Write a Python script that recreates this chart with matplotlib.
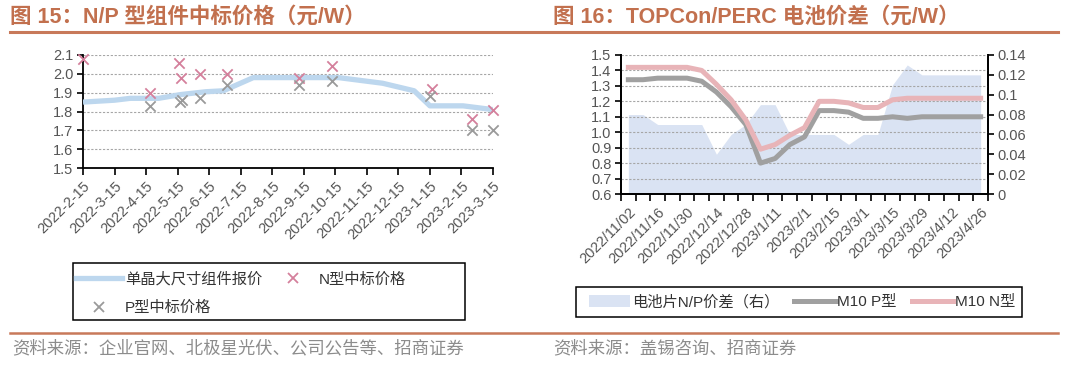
import matplotlib
matplotlib.use("Agg")
import matplotlib.pyplot as plt
import numpy as np
from matplotlib.lines import Line2D
from matplotlib.patches import Patch, Rectangle

plt.rcParams['font.family'] = ['Liberation Sans', 'Noto Sans CJK SC']
plt.rcParams['axes.unicode_minus'] = False

# ---------------- data: left chart ----------------
month_labels = ['2022-2-15', '2022-3-15', '2022-4-15', '2022-5-15', '2022-6-15',
                '2022-7-15', '2022-8-15', '2022-9-15', '2022-10-15', '2022-11-15',
                '2022-12-15', '2023-1-15', '2023-2-15', '2023-3-15']
module_x = [0, 1.0, 1.5, 2.4, 3.1, 3.9, 4.45, 5.4, 8.1, 9.5, 10.5, 11.0, 12.05, 13]
module_y = [1.85, 1.86, 1.87, 1.87, 1.89, 1.905, 1.91, 1.98, 1.98, 1.95, 1.91, 1.83, 1.83, 1.81]
n_bid_x = [0, 2.14, 3.04, 3.12, 3.70, 4.55, 6.84, 7.88, 11.05, 12.32, 13]
n_bid_y = [2.08, 1.90, 2.06, 1.98, 2.00, 2.00, 1.98, 2.04, 1.92, 1.76, 1.81]
p_bid_x = [2.14, 3.07, 3.15, 3.70, 4.55, 6.84, 7.88, 11.0, 12.32, 13]
p_bid_y = [1.83, 1.85, 1.86, 1.87, 1.94, 1.94, 1.96, 1.88, 1.70, 1.70]

# ---------------- data: right chart ----------------
week_labels = ['2022/11/02', '2022/11/09', '2022/11/16', '2022/11/23', '2022/11/30',
               '2022/12/07', '2022/12/14', '2022/12/21', '2022/12/28', '2023/1/4',
               '2023/1/11', '2023/1/18', '2023/2/1', '2023/2/8', '2023/2/15',
               '2023/2/22', '2023/3/1', '2023/3/8', '2023/3/15', '2023/3/22',
               '2023/3/29', '2023/4/5', '2023/4/12', '2023/4/19', '2023/4/26']
m10_p = [1.34, 1.34, 1.35, 1.35, 1.35, 1.33, 1.26, 1.165, 1.05, 0.80, 0.83, 0.92, 0.97,
         1.14, 1.14, 1.13, 1.09, 1.09, 1.10, 1.09, 1.10, 1.10, 1.10, 1.10, 1.10]
m10_n = [1.42, 1.42, 1.42, 1.42, 1.42, 1.40, 1.31, 1.21, 1.08, 0.89, 0.92, 0.98, 1.03,
         1.20, 1.20, 1.19, 1.16, 1.16, 1.21, 1.22, 1.22, 1.22, 1.22, 1.22, 1.22]
np_spread = [0.08, 0.08, 0.07, 0.07, 0.07, 0.07, 0.04, 0.06, 0.07, 0.09, 0.09, 0.06, 0.06,
             0.06, 0.06, 0.05, 0.06, 0.06, 0.11, 0.13, 0.12, 0.12, 0.12, 0.12, 0.12]

# ---------------- styles ----------------
W, H = 1080, 370
title_color = '#C2704E'
rule_color = '#C8795A'
tick_color = '#555555'
grid_kw = dict(color='#A6A6A6', linestyle=(0, (2, 1.5)), linewidth=0.8)
blue_line = '#BDD7EE'
pink_x = '#D4809C'
gray_x = '#9A9A9A'
gray_line = '#A0A0A0'
pink_line = '#E8B4B8'
area_color = '#DAE3F3'
fs_tick = 10.5
fs_leg = 11


def fx(px):
    return px / W


def fy(py):
    return 1 - py / H


fig = plt.figure(figsize=(10.8, 3.7), dpi=100)

# titles and rules
fig.text(fx(10), fy(17), '图 15：N/P 型组件中标价格（元/W）', fontsize=15.5, weight='bold',
         color=title_color, va='center', ha='left')
fig.text(fx(553), fy(17), '图 16：TOPCon/PERC 电池价差（元/W）', fontsize=15.5, weight='bold',
         color=title_color, va='center', ha='left')
fig.add_artist(Line2D([fx(10), fx(1058)], [fy(32), fy(32)], color=rule_color, lw=2.2,
                      transform=fig.transFigure))
fig.add_artist(Line2D([fx(10), fx(1058)], [fy(333), fy(333)], color=rule_color, lw=1.8,
                      transform=fig.transFigure))
fig.text(fx(12), fy(348), '资料来源：企业官网、北极星光伏、公司公告等、招商证券', fontsize=12.5,
         color='#8C8C8C', va='center', ha='left')
fig.text(fx(553), fy(348), '资料来源：盖锡咨询、招商证券', fontsize=12.5,
         color='#8C8C8C', va='center', ha='left')

# ---------------- left chart ----------------
ax1 = fig.add_axes([fx(83), fy(168), fx(493 - 83), (168 - 55) / H])
ax1.plot(module_x, module_y, color=blue_line, lw=3.8, solid_capstyle='butt', zorder=3,
         label='单晶大尺寸组件报价')
ax1.scatter(n_bid_x, n_bid_y, marker='x', s=55, color=pink_x, linewidths=1.3, zorder=4,
            clip_on=False, label='N型中标价格')
ax1.scatter(p_bid_x, p_bid_y, marker='x', s=55, color=gray_x, linewidths=1.3, zorder=4,
            clip_on=False, label='P型中标价格')
ax1.set_xlim(0, len(month_labels) - 1)
ax1.set_ylim(1.5, 2.1)
ax1.set_yticks(np.arange(1.5, 2.11, 0.1))
ax1.set_yticklabels([f'{v:.1f}' for v in np.arange(1.5, 2.11, 0.1)])
ax1.set_xticks(range(len(month_labels)))
ax1.set_xticklabels(month_labels, rotation=45, ha='right', rotation_mode='anchor')
ax1.grid(axis='y', **grid_kw)
ax1.set_axisbelow(True)
for s in ['top', 'right']:
    ax1.spines[s].set_visible(False)
for s in ['left', 'bottom']:
    ax1.spines[s].set_color('black')
    ax1.spines[s].set_linewidth(1.3)
ax1.tick_params(axis='x', direction='out', length=5, width=1.2, labelsize=fs_tick,
                labelcolor=tick_color, pad=3)
ax1.tick_params(axis='y', direction='out', length=4, width=1.2, labelsize=fs_tick,
                labelcolor=tick_color, pad=3)

# left legend
h_line = Line2D([], [], color=blue_line, lw=3.8)
h_n = Line2D([], [], color=pink_x, marker='x', ls='none', markersize=7, mew=1.3)
h_p = Line2D([], [], color=gray_x, marker='x', ls='none', markersize=7, mew=1.3)
fig.add_artist(Rectangle((fx(73), fy(320)), fx(392), 57 / H, transform=fig.transFigure,
                         fill=False, ec='black', lw=1.1))
fig.legend([h_line, h_p, h_n], ['单晶大尺寸组件报价', 'P型中标价格', 'N型中标价格'],
           ncol=2, loc='upper left', bbox_to_anchor=(fx(76), fy(272)), frameon=False,
           handlelength=3.0, handletextpad=0.2, columnspacing=0.5, labelspacing=0.95,
           borderpad=0, borderaxespad=0, fontsize=fs_leg, labelcolor='#333333')

# ---------------- right chart ----------------
ax2 = fig.add_axes([fx(621), fy(194), fx(988 - 621), (194 - 55) / H])
ax3 = ax2.twinx()
xs = np.arange(len(week_labels))
ax3.fill_between(xs, 0, np_spread, color=area_color, lw=0, zorder=1)
ax3.set_ylim(0, 0.14)
ax3.set_yticks(np.arange(0, 0.141, 0.02))
ax3.set_yticklabels(['0', '0.02', '0.04', '0.06', '0.08', '0.1', '0.12', '0.14'])

ax2.set_zorder(ax3.get_zorder() + 1)
ax2.patch.set_visible(False)
ax2.plot(xs, m10_p, color=gray_line, lw=3.6, zorder=3)
ax2.plot(xs, m10_n, color=pink_line, lw=3.6, zorder=4)
ax2.set_ylim(0.6, 1.5)
ax2.set_yticks(np.arange(0.6, 1.51, 0.1))
ax2.set_yticklabels([f'{v:.1f}' for v in np.arange(0.6, 1.51, 0.1)])
ax2.set_xlim(-0.5, len(week_labels) - 0.5)
ax2.set_xticks(np.arange(-0.5, len(week_labels), 1))
ax2.set_xticklabels([])
ax2.set_xticks(xs[::2], minor=True)
ax2.set_xticklabels(week_labels[::2], minor=True, rotation=45, ha='right',
                    rotation_mode='anchor')
ax2.grid(axis='y', **grid_kw)
ax2.tick_params(axis='x', which='major', direction='out', length=5, width=1.2)
ax2.tick_params(axis='x', which='minor', length=0, labelsize=fs_tick,
                labelcolor=tick_color, pad=8)
ax2.tick_params(axis='y', direction='out', length=4, width=1.2, labelsize=fs_tick,
                labelcolor=tick_color, pad=3)
ax3.tick_params(axis='y', direction='out', length=4, width=1.2, labelsize=fs_tick,
                labelcolor=tick_color, pad=3)
for a in (ax2, ax3):
    a.spines['top'].set_visible(False)
    for s in ['left', 'bottom', 'right']:
        a.spines[s].set_color('black')
        a.spines[s].set_linewidth(1.3)

# right legend
fig.add_artist(Rectangle((fx(576), fy(317)), fx(446), 30 / H, transform=fig.transFigure,
                         fill=False, ec='black', lw=1.1))
h_area = Patch(facecolor=area_color, edgecolor='none')
h_g = Line2D([], [], color=gray_line, lw=3.6)
h_pk = Line2D([], [], color=pink_line, lw=3.6)
fig.legend([h_area, h_g, h_pk], ['电池片N/P价差（右）', 'M10 P型', 'M10 N型'],
           ncol=3, loc='center left', bbox_to_anchor=(fx(589), fy(302)), frameon=False,
           handlelength=2.7, handleheight=0.9, handletextpad=0.1, columnspacing=1.0,
           borderpad=0, borderaxespad=0, fontsize=fs_leg, labelcolor='#333333')

fig.savefig('out.png', dpi=100)
